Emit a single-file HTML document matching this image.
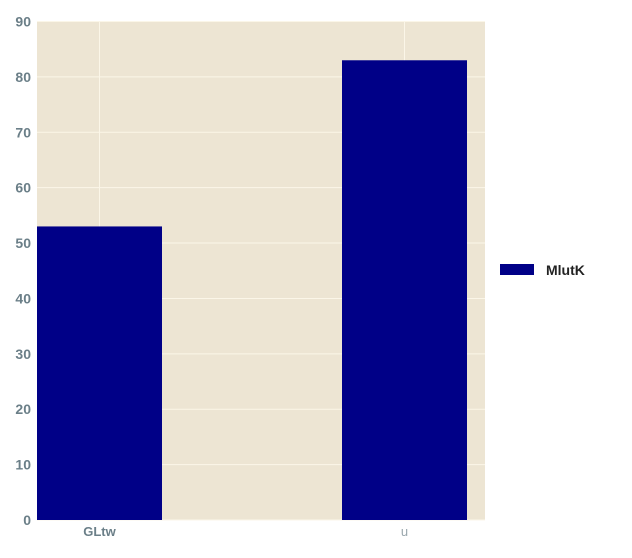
<!DOCTYPE html>
<html><head><meta charset="utf-8"><style>
body{margin:0;background:#fff;}
svg text{font-family:"Liberation Sans",sans-serif;}
</style></head><body>
<svg id="chart" width="632" height="553" xmlns="http://www.w3.org/2000/svg">
<rect x="37" y="21.5" width="448" height="498.5" fill="#ede5d3"/>
<g id="grid"></g><g id="bars"></g><g id="yticks"></g><g id="xticks"></g>
<g>
<rect x="500" y="264" width="34" height="11" fill="#000087"/>
<text x="546" y="275" font-size="14" font-weight="bold" fill="#222">MlutK</text>
</g>
</svg>
<script>
const categories=["GLtw","u"];
const values=[53,83];
const yTicks=[0,10,20,30,40,50,60,70,80,90];
const NS="http://www.w3.org/2000/svg";
const plotLeft=37,plotRight=485,plotTop=21.5,plotBottom=520;
const yScale=v=>plotBottom-(v/90)*(plotBottom-plotTop);
const xScale=i=>99.5+i*305;
const bw=125;
function mk(tag,attrs,parent,txt){const e=document.createElementNS(NS,tag);for(const k in attrs)e.setAttribute(k,attrs[k]);if(txt!==undefined)e.textContent=txt;document.getElementById(parent).appendChild(e);return e;}
yTicks.forEach(t=>{
 const g=mk('line',{x1:plotLeft,x2:plotRight,y1:yScale(t),y2:yScale(t),stroke:'#fbf6e8','stroke-width':1},'grid');
 
 
 const l=mk('text',{x:31,y:yScale(t)+5,'text-anchor':'end','font-size':14,'font-weight':'bold',fill:'#6b7f88'},'yticks',String(t));
 
 
});
categories.forEach((c,i)=>{
 const g=mk('line',{x1:xScale(i),x2:xScale(i),y1:plotTop,y2:plotBottom,stroke:'#fbf6e8','stroke-width':1},'grid');
 
 
});
categories.forEach((c,i)=>{
 const b=mk('rect',{x:xScale(i)-bw/2,y:yScale(values[i]),width:bw,height:plotBottom-yScale(values[i]),fill:'#000087'},'bars');
 
 
 const l=mk('text',{x:xScale(i),y:536,'text-anchor':'middle','font-size':13,'font-weight':i===0?'bold':'normal',fill:i===0?'#6b7f88':'#9aa7ad'},'xticks',c);
 
 
});
</script>
</body></html>
